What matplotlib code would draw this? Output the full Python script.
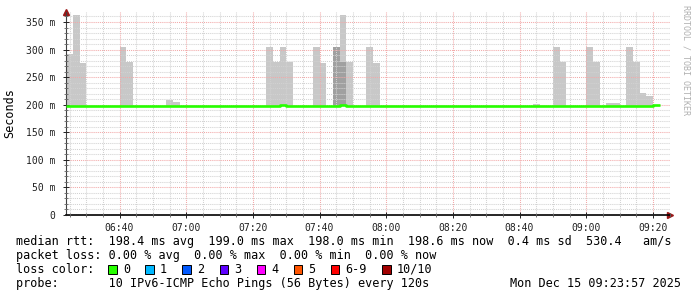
import numpy as np
import matplotlib
matplotlib.use('Agg')
import matplotlib.pyplot as plt
from matplotlib.patches import Rectangle

plt.rcParams['font.family'] = 'DejaVu Sans Mono'

# 2-minute steps from 06:24 to 09:20 (minutes since midnight)
slot_min = np.arange(6 * 60 + 24, 9 * 60 + 22, 2)

# median rtt per step (ms)
median_ms = [
    198.4, 198.5, 198.3, 198.4, 198.5, 198.4, 198.3, 198.4, 198.5, 198.4,
    198.3, 198.5, 198.4, 198.3, 198.4, 198.5, 198.4, 198.4, 198.3, 198.4,
    198.5, 198.4, 198.5, 198.3, 198.4, 198.4, 198.5, 198.3, 198.4, 198.4,
    198.5, 198.4, 198.6, 198.5, 198.4, 198.3, 198.4, 198.5, 198.4, 198.4,
    198.5, 198.6, 198.5, 198.4, 198.4, 198.5, 198.4, 198.3, 198.5, 198.4,
    198.4, 198.3, 198.4, 198.5, 198.4, 198.3, 198.5, 198.4, 198.4, 198.5,
    198.3, 198.4, 198.5, 198.4, 198.4, 198.3, 198.5, 198.4, 198.4, 198.3,
    198.5, 198.4, 198.4, 198.5, 198.4, 198.3, 198.5, 198.4, 198.4, 198.5,
    198.4, 198.4, 198.5, 198.3, 198.5, 198.4, 198.5, 198.5, 198.6,
]

# smoke (slowest ping) per step where it sticks out of the median
smoke_slots = [0, 1, 2, 8, 9, 15, 16, 30, 31, 32, 33, 37, 38, 40, 41, 42, 45, 46,
               70, 73, 74, 78, 79, 81, 82, 84, 85, 86, 87]
smoke_top = [292, 362, 276, 304, 278, 209, 205, 304, 278, 304, 278, 304, 276, 304, 362, 278, 304, 276,
             201, 304, 278, 304, 278, 203, 203, 304, 278, 221, 216]
# denser smoke (several pings high)
dense_slots = [40, 41]
dense_top = [304, 278]

loss_labels = ['0', '1', '2', '3', '4', '5', '6-9', '10/10']
loss_colors = ['#26ff00', '#00b8ff', '#0059ff', '#5e00ff', '#ff00ff', '#ff5500', '#ff0000', '#a10000']

W, H = 697, 297
fig = plt.figure(figsize=(W / 100, H / 100), dpi=100)
ax = fig.add_axes([66 / W, (H - 215) / H, (670 - 66) / W, (215 - 12) / H])

x_left = 6 * 60 + 23.95
ax.set_xlim(x_left, x_left + 604 / (10 / 3))
ax.set_ylim(0, 203 / (193 / 350))

med = np.array(median_ms)
sx = slot_min[smoke_slots]
ax.bar(sx, np.array(smoke_top) - med[smoke_slots], bottom=med[smoke_slots], width=2,
       align='edge', color='#c8c8c8', linewidth=0, zorder=1)
dx = slot_min[dense_slots]
ax.bar(dx, np.array(dense_top) - med[dense_slots], bottom=med[dense_slots], width=2,
       align='edge', color='#a0a0a0', linewidth=0, zorder=1.2)

# median line, coloured by loss (all 0 here)
ax.step(np.append(slot_min, slot_min[-1] + 2), np.append(med, med[-1]), where='post',
        color=loss_colors[0], linewidth=1.9, solid_capstyle='butt', zorder=3)

# grid
ax.set_yticks(np.arange(0, 351, 50))
ax.set_yticks(np.arange(10, 361, 10), minor=True)
ax.set_yticklabels(['0'] + [f'{v} m' for v in range(50, 351, 50)])
xt = np.arange(400, 561, 20)
ax.set_xticks(xt)
ax.set_xticklabels([f'{t // 60:02d}:{t % 60:02d}' for t in xt])
ax.set_xticks(np.arange(385, 566, 5), minor=True)
ax.set_axisbelow(False)
ax.grid(True, which='minor', color='#d2d2d2', linestyle=(0, (1, 1)), linewidth=0.75)
ax.grid(True, which='major', color='#f2a8a8', linestyle=(0, (1, 1)), linewidth=0.75)

ax.tick_params(which='major', direction='inout', length=5, width=0.7, labelsize=7, colors='#202020')
ax.tick_params(axis='y', which='major', pad=5.4)
ax.tick_params(axis='x', which='major', pad=3)
ax.tick_params(which='minor', direction='inout', length=3, width=0.6, colors='#606060')

for s in ['top', 'right']:
    ax.spines[s].set_visible(False)
ax.spines['left'].set_color('#404040')
ax.spines['bottom'].set_color('black')
ax.spines['bottom'].set_linewidth(1.2)

ax.plot([0], [1], marker='^', color='#9a1818', markersize=5, transform=ax.transAxes, clip_on=False)
ax.plot([1], [0], marker='>', color='#9a1818', markersize=5, transform=ax.transAxes, clip_on=False)

fig.text(10 / W, 1 - 113 / H, 'Seconds', rotation=90, ha='center', va='center', fontsize=8.5)
fig.text(686 / W, 1 - 5 / H, 'RRDTOOL / TOBI OETIKER', rotation=270, ha='center', va='top',
         fontsize=6, color='#b0b0b0')

fs = 8.5
fig.text(16 / W, 1 - 241.5 / H,
         'median rtt:  198.4 ms avg  199.0 ms max  198.0 ms min  198.6 ms now  0.4 ms sd  530.4   am/s',
         ha='left', va='center', fontsize=fs)
fig.text(16 / W, 1 - 255.5 / H, 'packet loss: 0.00 % avg  0.00 % max  0.00 % min  0.00 % now',
         ha='left', va='center', fontsize=fs)
fig.text(16 / W, 1 - 269.5 / H, 'loss color:', ha='left', va='center', fontsize=fs)
fig.text(16 / W, 1 - 283.5 / H, 'probe:       10 IPv6-ICMP Echo Pings (56 Bytes) every 120s',
         ha='left', va='center', fontsize=fs)
fig.text(681 / W, 1 - 283.5 / H, 'Mon Dec 15 09:23:57 2025', ha='right', va='center', fontsize=fs)

bx = 108.3
for lab, col in zip(loss_labels, loss_colors):
    fig.patches.append(Rectangle((bx / W, 1 - 273.5 / H), 8.3 / W, 8.3 / H, transform=fig.transFigure,
                                 facecolor=col, edgecolor='black', linewidth=0.7))
    fig.text((bx + 14.7) / W, 1 - 269.5 / H, lab, ha='left', va='center', fontsize=fs)
    bx += 14.7 + len(lab) * 7.1 + 15.3

fig.savefig('out.png', dpi=100)
